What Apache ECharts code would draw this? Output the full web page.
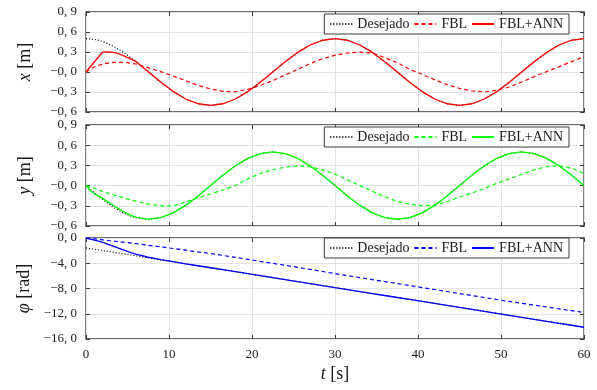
<!DOCTYPE html>
<html><head><meta charset="utf-8">
<script src="https://cdn.jsdelivr.net/npm/echarts@6/dist/echarts.min.js"></script>
<style>html,body{margin:0;padding:0;background:#fff}#c{width:597px;height:390px}</style>
</head><body><div id="c"></div>
<script>
// time samples [s]
const T = [0,0.5,1,1.5,2,2.5,3,3.5,4,4.5,5,5.5,6,
  7.5,9,10.5,12,13.5,15,16.5,18,19.5,21,22.5,24,25.5,27,28.5,30,
  31.5,33,34.5,36,37.5,39,40.5,42,43.5,45,46.5,48,49.5,51,52.5,54,55.5,57,58.5,60];

// x [m]
const xDes = [0.5,0.497,0.489,0.476,0.457,0.433,0.405,0.372,0.335,0.294,0.25,0.203,0.155,
  0,-0.155,-0.294,-0.405,-0.476,-0.5,-0.476,-0.405,-0.294,-0.155,0,0.155,0.294,0.405,0.476,0.5,
  0.476,0.405,0.294,0.155,0,-0.155,-0.294,-0.405,-0.476,-0.5,-0.476,-0.405,-0.294,-0.155,0,0.155,0.294,0.405,0.476,0.5];
const xFBL = [0,0.04,0.075,0.1,0.117,0.13,0.138,0.143,0.145,0.144,0.14,0.13,0.12,
  0.065,0.005,-0.06,-0.13,-0.2,-0.255,-0.29,-0.295,-0.26,-0.2,-0.13,-0.045,0.04,0.125,0.2,0.25,
  0.285,0.3,0.285,0.215,0.14,0.04,-0.035,-0.115,-0.19,-0.245,-0.285,-0.298,-0.275,-0.225,-0.15,-0.07,0.005,0.08,0.155,0.23];
const xANN = [0,0.075,0.15,0.225,0.298,0.3,0.298,0.29,0.27,0.245,0.215,0.19,0.16,
  0.005,-0.15,-0.29,-0.405,-0.476,-0.5,-0.476,-0.405,-0.294,-0.155,0,0.155,0.294,0.405,0.476,0.5,
  0.476,0.405,0.294,0.155,0,-0.155,-0.294,-0.405,-0.476,-0.5,-0.476,-0.405,-0.294,-0.155,0,0.155,0.294,0.405,0.476,0.5];

// y [m]
const yDes = [0,-0.052,-0.104,-0.155,-0.203,-0.25,-0.294,-0.335,-0.372,-0.405,-0.433,-0.457,-0.476,
  -0.5,-0.476,-0.405,-0.294,-0.155,0,0.155,0.294,0.405,0.476,0.5,0.476,0.405,0.294,0.155,0,
  -0.155,-0.294,-0.405,-0.476,-0.5,-0.476,-0.405,-0.294,-0.155,0,0.155,0.294,0.405,0.476,0.5,0.476,0.405,0.294,0.155,0];
const yFBL = [0,-0.02,-0.04,-0.065,-0.085,-0.105,-0.125,-0.145,-0.16,-0.18,-0.2,-0.215,-0.23,
  -0.275,-0.3,-0.3,-0.245,-0.18,-0.125,-0.065,0.0,0.1,0.18,0.235,0.275,0.29,0.28,0.235,0.17,
  0.085,0,-0.085,-0.165,-0.235,-0.275,-0.3,-0.29,-0.24,-0.17,-0.11,-0.04,0.035,0.1,0.165,0.235,0.28,0.295,0.26,0.18];
const yANN = [0,-0.07,-0.12,-0.155,-0.19,-0.23,-0.27,-0.31,-0.35,-0.385,-0.415,-0.445,-0.468,
  -0.5,-0.476,-0.405,-0.294,-0.155,0,0.155,0.294,0.405,0.476,0.5,0.476,0.405,0.294,0.155,0,
  -0.155,-0.294,-0.405,-0.476,-0.5,-0.476,-0.405,-0.294,-0.155,0,0.155,0.294,0.405,0.476,0.5,0.476,0.405,0.294,0.155,0];

// phi [rad]
const phiDes = [-1.571,-1.676,-1.78,-1.885,-1.99,-2.094,-2.199,-2.304,-2.409,-2.513,-2.618,-2.723,-2.827,
  -3.142,-3.456,-3.77,-4.084,-4.398,-4.712,-5.026,-5.341,-5.655,-5.969,-6.283,-6.597,-6.911,-7.226,-7.54,-7.854,
  -8.168,-8.482,-8.796,-9.111,-9.425,-9.739,-10.053,-10.367,-10.681,-10.996,-11.31,-11.624,-11.938,-12.252,-12.566,-12.881,-13.195,-13.509,-13.823,-14.137];
const phiFBL = [0,-0.07,-0.145,-0.22,-0.29,-0.365,-0.44,-0.515,-0.59,-0.665,-0.74,-0.81,-0.89,
  -1.15,-1.41,-1.66,-1.93,-2.2,-2.47,-2.76,-3.07,-3.38,-3.7,-4.01,-4.33,-4.64,-4.97,-5.31,-5.64,
  -5.96,-6.27,-6.59,-6.9,-7.22,-7.53,-7.85,-8.16,-8.48,-8.8,-9.11,-9.43,-9.75,-10.05,-10.34,-10.63,-10.93,-11.22,-11.51,-11.8];
const phiANN = [0,-0.16,-0.33,-0.5,-0.7,-0.93,-1.17,-1.42,-1.66,-1.89,-2.12,-2.34,-2.55,
  -3.05,-3.42,-3.75,-4.084,-4.398,-4.712,-5.026,-5.341,-5.655,-5.969,-6.283,-6.597,-6.911,-7.226,-7.54,-7.854,
  -8.168,-8.482,-8.796,-9.111,-9.425,-9.739,-10.053,-10.367,-10.681,-10.996,-11.31,-11.624,-11.938,-12.252,-12.566,-12.881,-13.195,-13.509,-13.823,-14.137];

// tick labels
const xTickLabels = ["0","10","20","30","40","50","60"];
const yTickLabelsPos = ["−0, 6","−0, 3","−0, 0","0, 3","0, 6","0, 9"];
const yTickLabelsPhi = ["−16, 0","−12, 0","−8, 0","−4, 0","0, 0"];
const legendNames = ["Desejado","FBL","FBL+ANN"];

const FONT = "'Liberation Serif', 'DejaVu Serif', serif";
const TXT = '#1a1a1a';
const FRAME = '#3c3c3c';
const GRIDC = '#e3e3e3';

const panels = [
  {top:12, height:100, min:-0.6, max:0.9, interval:0.3, labels:yTickLabelsPos, name:'{i|x} [m]', color:'#ff0000', data:[xDes,xFBL,xANN], legTop:14},
  {top:125, height:101, min:-0.6, max:0.9, interval:0.3, labels:yTickLabelsPos, name:'{i|y} [m]', color:'#00ff00', data:[yDes,yFBL,yANN], legTop:127},
  {top:238, height:101, min:-16, max:0, interval:4, labels:yTickLabelsPhi, name:'{i|φ} [rad]', color:'#0000ff', data:[phiDes,phiFBL,phiANN], legTop:238}
];

const tickStyle = {show:true, inside:true, length:4, lineStyle:{color:FRAME, width:1}};
const grid = [], xAxis = [], yAxis = [], series = [], legend = [];
panels.forEach((p, i) => {
  grid.push({left:86, right:13, top:p.top, height:p.height, show:true, borderColor:FRAME, borderWidth:1.3, backgroundColor:'transparent'});
  const isLast = i === panels.length - 1;
  xAxis.push({
    gridIndex:i, type:'value', min:0, max:60, interval:10, position:'bottom',
    axisLine:{show:false, onZero:false},
    axisTick:tickStyle,
    splitLine:{show:true, lineStyle:{color:GRIDC, width:1}},
    axisLabel:{show:isLast, margin:9, fontFamily:FONT, fontSize:13, color:TXT,
      formatter:(v) => xTickLabels[Math.round(v/10)]},
    name: isLast ? '{i|t} [s]' : '', nameLocation:'middle', nameGap:26,
    nameTextStyle:{fontFamily:FONT, fontSize:18, color:TXT, rich:{i:{fontFamily:FONT, fontStyle:'italic', fontSize:18, color:TXT}}}
  });
  xAxis.push({
    gridIndex:i, type:'value', min:0, max:60, interval:10, position:'top',
    axisLine:{show:false, onZero:false}, axisLabel:{show:false}, splitLine:{show:false},
    axisTick:tickStyle
  });
  yAxis.push({
    gridIndex:i, type:'value', min:p.min, max:p.max, interval:p.interval, position:'left',
    axisLine:{show:false, onZero:false},
    axisTick:tickStyle,
    splitLine:{show:true, lineStyle:{color:GRIDC, width:1}},
    axisLabel:{margin:9, fontFamily:FONT, fontSize:13, color:TXT,
      formatter:(v) => p.labels[Math.round((v - p.min)/p.interval)]},
    name:p.name, nameLocation:'middle', nameGap:52,
    nameTextStyle:{fontFamily:FONT, fontSize:18, color:TXT, rich:{i:{fontFamily:FONT, fontStyle:'italic', fontSize:18, color:TXT}}}
  });
  yAxis.push({
    gridIndex:i, type:'value', min:p.min, max:p.max, interval:p.interval, position:'right',
    axisLine:{show:false, onZero:false}, axisLabel:{show:false}, splitLine:{show:false},
    axisTick:tickStyle
  });
  const styles = [
    {color:'#000000', type:[1,2], width:1.2},
    {color:p.color, type:[4,3], width:1.2},
    {color:p.color, type:'solid', width:1.3}
  ];
  const names = legendNames.map(n => n + ' '.repeat(i));
  names.forEach((nm, j) => {
    series.push({
      type:'line', name:nm, xAxisIndex:2*i, yAxisIndex:2*i,
      data:T.map((t, k) => [t, p.data[j][k]]),
      symbol:'none', showSymbol:false, smooth:false,
      lineStyle:styles[j], itemStyle:{color:styles[j].color},
      z: 2 + j, animation:false
    });
  });
  legend.push({
    data:names, top:p.legTop, right:28, orient:'horizontal',
    itemWidth:22, itemHeight:10, itemGap:4,
    borderColor:FRAME, borderWidth:1, backgroundColor:'#ffffff', borderRadius:0,
    padding:[3,6,3,5], selectedMode:false,
    itemStyle:{opacity:0},
    textStyle:{fontFamily:FONT, fontSize:14, color:TXT},
    formatter:(n) => n.trim()
  });
});

const chart = echarts.init(document.getElementById('c'), null, {renderer:'canvas'});
chart.setOption({animation:false, backgroundColor:'#ffffff', grid, xAxis, yAxis, series, legend});
</script>
</body></html>
